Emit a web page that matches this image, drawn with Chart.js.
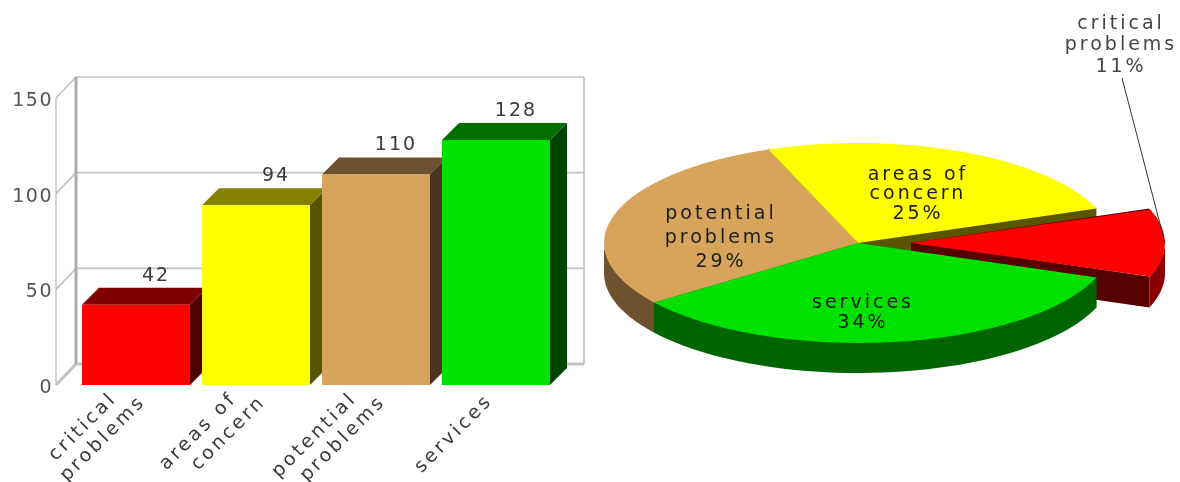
<!DOCTYPE html>
<html>
<head>
<meta charset="utf-8">
<style>
  html, body { margin: 0; padding: 0; background: #fff; overflow: hidden; }
  #stage { position: relative; width: 1180px; height: 482px; overflow: hidden; }
  #barBox { position: absolute; left: 0; top: 0; width: 590px; height: 482px; }
  #pieBox { position: absolute; left: 536px; top: 0; width: 644px; height: 482px; }
</style>
<script src="https://cdn.jsdelivr.net/npm/chart.js@4"></script>
</head>
<body>
<div id="stage">
  <div id="barBox"><canvas id="barChart"></canvas></div>
  <div id="pieBox"><canvas id="pieChart"></canvas></div>
</div>
<script>
// Problem counts per level, shown as a 3D column chart and an exploded 3D pie.
const categories = [["critical", "problems"], ["areas of", "concern"], ["potential", "problems"], ["services"]];
const counts = [42, 94, 110, 128];
const percents = [11, 25, 29, 34];
const yTicks = [0, 50, 100, 150];

const faceColors = ["#ff0000", "#ffff00", "#d6a45a", "#00e100"];
const topColors  = ["#800000", "#858000", "#6e5230", "#006f00"];
const sideColors = ["#500000", "#555500", "#4a361f", "#004500"];

// Slices run clockwise from the exploded one, so the order differs from the columns.
const pieOrder = [0, 3, 2, 1];
const pieValues = pieOrder.map(i => counts[i]);
const pieColors = pieOrder.map(i => faceColors[i]);
const pieTotal = counts.reduce((a, b) => a + b, 0);

const TEXT_FONT = '19px "DejaVu Sans"';
const TEXT_COLOR = "#3a3a3a";

Chart.defaults.animation = false;
Chart.defaults.responsive = false;

function sizeCanvas(id, w, h) {
  const c = document.getElementById(id);
  c.width = w; c.height = h;
  c.style.width = w + "px"; c.style.height = h + "px";
  return c;
}

function polygon(ctx, pts, fill) {
  ctx.beginPath();
  pts.forEach((p, i) => i ? ctx.lineTo(p[0], p[1]) : ctx.moveTo(p[0], p[1]));
  ctx.closePath();
  ctx.fillStyle = fill;
  ctx.fill();
}

// Back wall, floor and the receding grid lines of the column chart.
const BAR_DEPTH = 17, WALL_DX = 20, WALL_DY = 21, WALL_EXTRA = 28;
const wallPlugin = {
  id: "wall",
  beforeDraw(chart) {
    // Tick numbers are spaced out a little, like the captions.
    chart.ctx.letterSpacing = "1.5px";
  },
  beforeDatasetsDraw(chart) {
    const { ctx, chartArea: a, scales: { y } } = chart;
    const right = a.right + WALL_EXTRA;
    const line = (x0, y0, x1, y1, w) => {
      ctx.lineWidth = w;
      ctx.beginPath(); ctx.moveTo(x0, y0); ctx.lineTo(x1, y1); ctx.stroke();
    };
    ctx.save();
    ctx.strokeStyle = "#c2c2c2";
    yTicks.forEach(v => {
      const py = y.getPixelForValue(v);
      const thick = v === 0 ? 3 : 1.6;
      line(a.left, py - WALL_DY, right, py - WALL_DY, thick);
      line(a.left - WALL_DX, py, a.left, py - WALL_DY, thick);
    });
    line(a.left - WALL_DX, y.getPixelForValue(0), a.left - WALL_DX, y.getPixelForValue(150), 1.4);
    line(right, y.getPixelForValue(0) - WALL_DY, right, y.getPixelForValue(150) - WALL_DY, 1.6);
    ctx.strokeStyle = "#ababab";
    line(a.left, y.getPixelForValue(0) - WALL_DY, a.left, y.getPixelForValue(150) - WALL_DY, 3);
    ctx.restore();

    // Side and top faces go first so each front face sits over its left neighbour.
    chart.getDatasetMeta(0).data.forEach((bar, i) => {
      const { x, y: top, base, width } = bar.getProps(["x", "y", "base", "width"]);
      const l = x - width / 2, r = x + width / 2;
      polygon(ctx, [[l, top], [r, top], [r + BAR_DEPTH, top - BAR_DEPTH], [l + BAR_DEPTH, top - BAR_DEPTH]], topColors[i]);
      polygon(ctx, [[r, top], [r + BAR_DEPTH, top - BAR_DEPTH], [r + BAR_DEPTH, base - BAR_DEPTH], [r, base]], sideColors[i]);
    });
  },
  afterDraw(chart) {
    const { ctx, scales: { x, y } } = chart;
    ctx.save();
    ctx.font = TEXT_FONT;
    ctx.fillStyle = TEXT_COLOR;

    // Value captions above the top face of each column.
    ctx.letterSpacing = "2px";
    ctx.textAlign = "center";
    ctx.textBaseline = "middle";
    chart.getDatasetMeta(0).data.forEach((bar, i) => {
      ctx.fillText(String(counts[i]), bar.x + 20, y.getPixelForValue(counts[i]) - 29);
    });

    // Slanted category labels, one text run per line.
    ctx.letterSpacing = "3px";
    ctx.textAlign = "right";
    const zero = y.getPixelForValue(0);
    categories.forEach((lines, i) => {
      const cx = x.getPixelForTick(i);
      lines.forEach((text, j) => {
        const dx = lines.length === 1 ? -6 : (j === 0 ? -22 : 7);
        const dy = lines.length === 1 ? 13 : (j === 0 ? 11 : 14);
        ctx.save();
        ctx.translate(cx + dx, zero + dy);
        ctx.rotate(-Math.PI / 4);
        ctx.fillText(text, 0, 0);
        ctx.restore();
      });
    });
    ctx.restore();
  }
};

new Chart(sizeCanvas("barChart", 590, 482), {
  type: "bar",
  data: {
    labels: categories,
    datasets: [{ data: counts, backgroundColor: faceColors, barPercentage: 0.9, categoryPercentage: 1 }]
  },
  options: {
    layout: { padding: { top: 98, right: 34, left: 0, bottom: 0 } },
    plugins: { legend: { display: false }, tooltip: { enabled: false } },
    scales: {
      x: {
        grid: { display: false },
        border: { display: false },
        ticks: { display: false },
        afterFit: s => { s.height = 97; }
      },
      y: {
        min: 0, max: 150,
        afterBuildTicks: s => { s.ticks = yTicks.map(value => ({ value })); },
        grid: { display: false, drawTicks: false },
        border: { display: false },
        ticks: { padding: 23, labelOffset: 3, color: "#555", font: { family: "DejaVu Sans", size: 19 } },
        afterFit: s => { s.width = 76; }
      }
    }
  },
  plugins: [wallPlugin]
});

// Flattens the library's circular arcs into an ellipse and adds the rim below them.
const SQUASH = 100 / 254, PIE_DEPTH = 30, PIE_CENTER_Y = 243;
const rimColors = ["#8a0000", "#006400", "#6e5230", "#5a5500"];
const cutColors = ["#560000", "#006400", "#6e5230", "#5a5500"];
const pieCaptions = [
  { dx: 0, dy: 0, step: 0 },
  { dx: 5, dy: 60, step: 20 },
  { dx: -137, dy: -29, step: 24 },
  { dx: 60, dy: -68, step: 19.5 }
];
const CALLOUT = { dx: 263, dy: -219, step: 21.5 };

const piePlugin = {
  id: "pie3d",
  afterDatasetsUpdate(chart) {
    // ArcElement grows an exploded slice's radius; undo that so all slices stay equal.
    chart.getDatasetMeta(0).data.forEach(arc => {
      const off = (arc.options.offset || 0) / 4;
      const fix = 1 - Math.sin(Math.min(Math.PI, arc.circumference));
      arc.outerRadius -= off * fix;
    });
  },
  beforeDatasetsDraw(chart) {
    const { ctx } = chart;
    const meta = chart.getDatasetMeta(0);
    const arcs = meta.data;
    const R = meta.controller.outerRadius;
    const cx = arcs[0].x, cy = arcs[0].y;
    const toScreen = (a, b) => [a, PIE_CENTER_Y + (b - cy) * SQUASH];

    // Solid body of a slice: its two cut faces, then the visible part of the rim.
    // Upper edges reach one pixel under the top face so no seam shows between them.
    const drawBody = (i) => {
      const arc = arcs[i];
      const { startAngle: s, endAngle: e, options } = arc;
      // ArcElement moves a slice by a quarter of its offset option.
      const mid = (s + e) / 2, off = (options.offset || 0) / 4;
      const ox = cx + Math.cos(mid) * off, oy = cy + Math.sin(mid) * off;
      const c = toScreen(ox, oy);
      const edge = t => toScreen(ox + Math.cos(t) * R, oy + Math.sin(t) * R);
      [[s, 0], [e, 1]].forEach(([t, lift]) => {
        const p = edge(t);
        polygon(ctx, [[c[0], c[1] - lift], [p[0], p[1] - lift], [p[0], p[1] + PIE_DEPTH], [c[0], c[1] + PIE_DEPTH]], cutColors[i]);
      });
      const a0 = Math.max(s, 0), a1 = Math.min(e, Math.PI);
      if (a1 > a0) {
        const N = 48;
        ctx.beginPath();
        for (let k = 0; k <= N; k++) {
          const q = edge(a0 + (a1 - a0) * k / N);
          k ? ctx.lineTo(q[0], q[1] - 1) : ctx.moveTo(q[0], q[1] - 1);
        }
        for (let k = N; k >= 0; k--) {
          const q = edge(a0 + (a1 - a0) * k / N);
          ctx.lineTo(q[0], q[1] + PIE_DEPTH);
        }
        ctx.closePath();
        ctx.fillStyle = rimColors[i];
        ctx.fill();
      }
    };
    // Far slices first; the exploded slice's body sits behind the nearer rims.
    [3, 0, 2, 1].forEach(drawBody);

    ctx.save();
    ctx.translate(0, PIE_CENTER_Y);
    ctx.scale(1, SQUASH);
    ctx.translate(0, -cy);
  },
  afterDatasetsDraw(chart) {
    chart.ctx.restore();
  },
  afterDraw(chart) {
    const { ctx } = chart;
    const arcs = chart.getDatasetMeta(0).data;
    const cx = arcs[0].x;
    ctx.save();
    ctx.font = TEXT_FONT;
    ctx.textAlign = "center";
    ctx.textBaseline = "middle";

    pieOrder.forEach((dataIndex, i) => {
      const lines = categories[dataIndex].concat(percents[dataIndex] + "%");
      const spot = i === 0 ? CALLOUT : pieCaptions[i];
      ctx.fillStyle = i === 0 ? "#444" : "#1c1c1c";
      const start = PIE_CENTER_Y + spot.dy;
      lines.forEach((text, j) => {
        ctx.letterSpacing = "3px";
        ctx.fillText(text, cx + spot.dx, start + spot.step * j);
      });
    });

    // Leader from the callout down to the exploded slice.
    ctx.strokeStyle = "#333";
    ctx.lineWidth = 1;
    ctx.beginPath();
    ctx.moveTo(cx + 264, 78);
    ctx.lineTo(cx + 307, PIE_CENTER_Y);
    ctx.stroke();
    ctx.restore();
  }
};

// Chart.js shifts a slice by offset / 4, so 212 pulls it out by 53 pixels.
const explode = 212;
new Chart(sizeCanvas("pieChart", 644, 482), {
  type: "pie",
  data: {
    labels: pieOrder.map(i => categories[i].join(" ")),
    datasets: [{
      data: pieValues,
      backgroundColor: pieColors,
      borderWidth: 0,
      offset: pieOrder.map(i => (i === 0 ? explode : 0))
    }]
  },
  options: {
    radius: 254,
    rotation: 90 - (counts[0] / pieTotal) * 180,
    plugins: { legend: { display: false }, tooltip: { enabled: false } }
  },
  plugins: [piePlugin]
});
</script>
</body>
</html>
